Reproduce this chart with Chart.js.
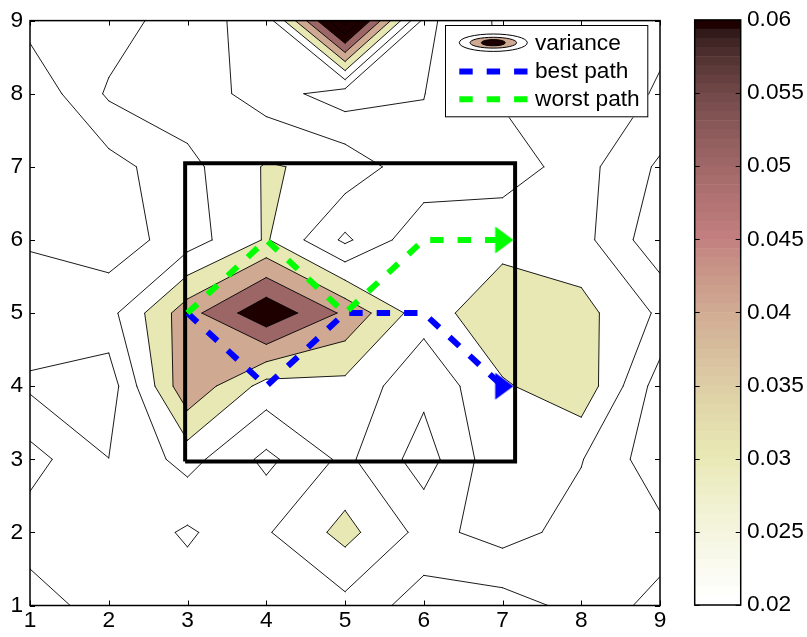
<!DOCTYPE html>
<html><head><meta charset="utf-8">
<script src="https://cdn.jsdelivr.net/npm/chart.js@4.4.1/dist/chart.umd.min.js"></script>
<style>
html,body{margin:0;padding:0;background:#fff;}
#wrap{position:relative;width:807px;height:637px;overflow:hidden;}
#main{position:absolute;left:0;top:0;}
#cbar{position:absolute;left:680px;top:0;}
</style></head><body>
<div id="wrap"><canvas id="main" width="680" height="637"></canvas><canvas id="cbar" width="127" height="637"></canvas></div>
<script>
// ---- data ----
const gridX = [1,2,3,4,5,6,7,8,9];
const gridY = [1,2,3,4,5,6,7,8,9];
// variance values, one row per y (x = 1..9)
const varianceY1 = [0.0050,0.0148,0.0160,0.0150,0.0169,0.0053,0.0055,0.0133,0.0083];
const varianceY2 = [0.0150,0.0180,0.0085,0.0190,0.0333,0.0167,0.0240,0.0160,0.0126];
const varianceY3 = [0.0239,0.0101,0.0237,0.0075,0.0224,0.0053,0.0280,0.0205,0.0036];
const varianceY4 = [0.0083,0.0045,0.0480,0.0260,0.0270,0.0126,0.0287,0.0370,0.0050];
const varianceY5 = [0.0164,0.0166,0.0460,0.0680,0.0480,0.0240,0.0390,0.0335,0.0183];
const varianceY6 = [0.0088,0.0046,0.0150,0.0310,0.0080,0.0280,0.0256,0.0235,0.0030];
const varianceY7 = [0.0040,0.0062,0.0170,0.0310,0.0270,0.0123,0.0159,0.0237,0.0083];
const varianceY8 = [0.0022,0.0215,0.0264,0.0150,0.0045,0.0098,0.0210,0.0260,0.0190];
const varianceY9 = [0.0135,0.0147,0.0262,0.0138,0.0850,0.0074,0.0220,0.0220,0.0222];
const contourLevels = [0.01,0.02,0.03,0.04,0.05,0.06,0.07,0.08];
const colorLimits = [0.02,0.06];
const colorbarTicks = [0.02,0.025,0.03,0.035,0.04,0.045,0.05,0.055,0.06];
const axisTicks = [1,2,3,4,5,6,7,8,9];
const bestPathX = [3,4,5,6,7];
const bestPathY = [5,4,5,5,4];
const worstPathX = [3,4,5,6,7];
const worstPathY = [5,6,5,6,6];
const boxX = [2.97,7.16,7.16,2.97,2.97];
const boxY = [2.97,2.97,7.05,7.05,2.97];
const legendLabels = ['variance','best path','worst path'];

const FONT = "'Liberation Sans', Arial, Helvetica, sans-serif";
const FSIZE = 22.7;
const Z = [varianceY1,varianceY2,varianceY3,varianceY4,varianceY5,varianceY6,varianceY7,varianceY8,varianceY9];

// ---- colormap: flipud(pink(64)) ----
function pinkMap(m){
  const n = Math.floor(3/8*m), out=[];
  for(let i=0;i<m;i++){
    const k=i+1;
    const r = Math.min(1,k/n);
    const g = k<=n?0:Math.min(1,(k-n)/n);
    const b = k<=2*n?0:(k-2*n)/(m-2*n);
    const gr = i/(m-1);
    out.push([Math.sqrt((2*gr+r)/3),Math.sqrt((2*gr+g)/3),Math.sqrt((2*gr+b)/3)]);
  }
  return out;
}
const CMAP = pinkMap(64).reverse();
const rgb = c => 'rgb('+c.map(v=>Math.round(v*255)).join(',')+')';
function colorFor(v){
  const t=(v-colorLimits[0])/(colorLimits[1]-colorLimits[0]);
  const idx=Math.max(0,Math.min(CMAP.length-1,Math.floor(t*CMAP.length+1e-9)));
  return rgb(CMAP[idx]);
}

// ---- marching squares ----
function interp(p,q,L){const t=(L-p.v)/(q.v-p.v);return {x:p.x+t*(q.x-p.x),y:p.y+t*(q.y-p.y)};}
function cellPieces(i,j,L){
  const c=[{x:gridX[i],y:gridY[j],v:Z[j][i]},{x:gridX[i+1],y:gridY[j],v:Z[j][i+1]},
           {x:gridX[i+1],y:gridY[j+1],v:Z[j+1][i+1]},{x:gridX[i],y:gridY[j+1],v:Z[j+1][i]}];
  const ins=c.map(p=>p.v>=L);
  const n=ins.filter(Boolean).length;
  if(n===0) return {polys:[],segs:[]};
  if(n===4) return {polys:[c.map(p=>({x:p.x,y:p.y}))],segs:[]};
  const center=(c[0].v+c[1].v+c[2].v+c[3].v)/4;
  const saddle = n===2 && ins[0]===ins[2];
  const cross=[];
  for(let k=0;k<4;k++){const k2=(k+1)%4; if(ins[k]!==ins[k2]) cross.push({p:interp(c[k],c[k2],L),exit:ins[k],edge:k});}
  if(saddle && center<L){
    const polys=[],segs=[];
    for(let k=0;k<4;k++){ if(!ins[k]) continue;
      const a=interp(c[(k+3)%4],c[k],L), b=interp(c[k],c[(k+1)%4],L);
      polys.push([a,{x:c[k].x,y:c[k].y},b]); segs.push([a,b]);
    }
    return {polys,segs};
  }
  const poly=[];
  for(let k=0;k<4;k++){const k2=(k+1)%4; if(ins[k]) poly.push({x:c[k].x,y:c[k].y}); if(ins[k]!==ins[k2]) poly.push(interp(c[k],c[k2],L));}
  const segs=[];
  for(let m=0;m<cross.length;m++){ if(cross[m].exit){ const nx=cross[(m+1)%cross.length]; segs.push([cross[m].p,nx.p]); } }
  return {polys:[poly],segs};
}
const fillLayers=[]; const contourPoints=[];
contourLevels.forEach(L=>{
  const polys=[];
  for(let j=0;j<gridY.length-1;j++) for(let i=0;i<gridX.length-1;i++){
    const r=cellPieces(i,j,L); polys.push(...r.polys);
    r.segs.forEach(s=>{contourPoints.push({x:s[0].x,y:s[0].y},{x:s[1].x,y:s[1].y},{x:s[1].x,y:null});});
  }
  fillLayers.push({level:L,polys});
});

// ---- arrow marker ('>') ----
function makeArrow(color){
  const cv=document.createElement('canvas'); cv.width=30; cv.height=30;
  const c=cv.getContext('2d'); c.fillStyle=color; c.beginPath();
  c.moveTo(26,15); c.lineTo(7.7,1.6); c.lineTo(7.7,28.4); c.closePath(); c.fill();
  return cv;
}
const arrowBlue=makeArrow('rgb(0,0,255)'), arrowGreen=makeArrow('rgb(0,255,0)');
const lastOnly=(arr,v)=>arr.map((_,k)=>k===arr.length-1?v:0);

const fillPlugin={id:'fills',beforeDatasetsDraw(chart){
  const {ctx,chartArea:a,scales:{x,y}}=chart;
  ctx.save(); ctx.beginPath(); ctx.rect(a.left,a.top,a.right-a.left,a.bottom-a.top); ctx.clip();
  fillLayers.forEach(layer=>{
    ctx.beginPath();
    layer.polys.forEach(p=>{p.forEach((q,k)=>{const px=x.getPixelForValue(q.x),py=y.getPixelForValue(q.y); if(k===0)ctx.moveTo(px,py); else ctx.lineTo(px,py);}); ctx.closePath();});
    ctx.fillStyle=colorFor(layer.level); ctx.fill('nonzero');
  });
  ctx.restore();
}};
const framePlugin={id:'frame',afterDatasetsDraw(chart){
  const {ctx,chartArea:a,scales:{x,y}}=chart;
  ctx.save(); ctx.strokeStyle='#000'; ctx.lineWidth=1; ctx.beginPath();
  x.ticks.forEach(t=>{const px=Math.round(x.getPixelForValue(t.value))+0.5; ctx.moveTo(px,a.bottom); ctx.lineTo(px,a.bottom-5); ctx.moveTo(px,a.top); ctx.lineTo(px,a.top+5);});
  y.ticks.forEach(t=>{const py=Math.round(y.getPixelForValue(t.value))+0.5; ctx.moveTo(a.left,py); ctx.lineTo(a.left+5,py); ctx.moveTo(a.right,py); ctx.lineTo(a.right-5,py);});
  ctx.stroke();
  ctx.lineWidth=1.5; ctx.strokeRect(a.left,a.top,a.right-a.left,a.bottom-a.top);
  ctx.restore();
}};
const legendPlugin={id:'legendBox',afterDraw(chart){
  const ctx=chart.ctx; ctx.save();
  const L=445,T=25,R=648.3,B=117.3;
  ctx.fillStyle='#fff'; ctx.fillRect(L,T,R-L,B-T);
  ctx.strokeStyle='#000'; ctx.lineWidth=1; ctx.strokeRect(L+0.5,T+0.5,R-L-1,B-T-1);
  // variance icon
  const cx=493.3, cy=42.7;
  ctx.lineWidth=1;
  ctx.beginPath(); ctx.ellipse(cx,cy,34,8.7,0,0,Math.PI*2); ctx.fillStyle='#fff'; ctx.fill(); ctx.stroke();
  ctx.beginPath(); ctx.ellipse(cx,cy,23.3,5.4,0,0,Math.PI*2); ctx.fillStyle=colorFor(0.04); ctx.fill(); ctx.stroke();
  ctx.beginPath(); ctx.ellipse(cx,cy,12,3.1,0,0,Math.PI*2); ctx.fillStyle=colorFor(0.06); ctx.fill(); ctx.stroke();
  // dashed samples
  [[71.5,'rgb(0,0,255)'],[99.3,'rgb(0,255,0)']].forEach(([yy,col])=>{
    ctx.beginPath(); ctx.setLineDash([13.4,14]); ctx.lineCap='butt'; ctx.strokeStyle=col; ctx.lineWidth=6;
    ctx.moveTo(459.3,yy); ctx.lineTo(527.8,yy); ctx.stroke();
  });
  ctx.setLineDash([]);
  ctx.fillStyle='#000'; ctx.font=FSIZE+'px '+FONT; ctx.textBaseline='middle'; ctx.textAlign='left';
  ctx.fillText(legendLabels[0],535,43.5); ctx.fillText(legendLabels[1],535,72); ctx.fillText(legendLabels[2],535,99.5);
  ctx.restore();
}};

const toPts=(xs,ys)=>xs.map((v,k)=>({x:v,y:ys[k]}));
new Chart(document.getElementById('main'),{
  type:'scatter',
  data:{datasets:[
    {label:'contours',data:contourPoints,showLine:true,borderColor:'#000',borderWidth:0.9,pointRadius:0,spanGaps:false,order:5,borderCapStyle:'round'},
    {label:'box',data:toPts(boxX,boxY),showLine:true,borderColor:'#000',borderWidth:4,pointRadius:0,order:4,borderJoinStyle:'miter'},
    {label:'best path',data:toPts(bestPathX,bestPathY),showLine:true,borderColor:'rgb(0,0,255)',borderWidth:6,borderDash:[13.4,14],
      pointRadius:lastOnly(bestPathX,14),pointStyle:arrowBlue,order:3},
    {label:'worst path',data:toPts(worstPathX,worstPathY),showLine:true,borderColor:'rgb(0,255,0)',borderWidth:6,borderDash:[13.4,14],
      pointRadius:lastOnly(worstPathX,14),pointStyle:arrowGreen,order:2}
  ]},
  options:{
    responsive:false,animation:false,devicePixelRatio:1,
    layout:{padding:{top:14,right:20,left:0,bottom:0}},
    plugins:{legend:{display:false},tooltip:{enabled:false}},
    scales:{
      x:{type:'linear',min:1,max:9,afterBuildTicks:s=>{s.ticks=axisTicks.map(v=>({value:v}));},afterFit:s=>{s.height=31.5;},
         grid:{display:false,drawTicks:false},border:{display:false},
         ticks:{padding:2,color:'#000',font:{family:FONT,size:FSIZE},maxRotation:0,autoSkip:false,callback:v=>String(v)}},
      y:{type:'linear',min:1,max:9,afterBuildTicks:s=>{s.ticks=axisTicks.map(v=>({value:v}));},afterFit:s=>{s.width=30;},
         grid:{display:false,drawTicks:false},border:{display:false},
         ticks:{padding:7,color:'#000',font:{family:FONT,size:FSIZE},autoSkip:false,callback:v=>String(v)}}
    }
  },
  plugins:[fillPlugin,framePlugin,legendPlugin]
});

// ---- colorbar ----
const step=(colorLimits[1]-colorLimits[0])/CMAP.length;
const cbDatasets=CMAP.map((c,i)=>({data:[[colorLimits[0]+i*step,colorLimits[0]+(i+1)*step]],backgroundColor:rgb(c),borderWidth:0,barPercentage:1,categoryPercentage:1,grouped:false}));
const cbFrame={id:'cbFrame',afterDatasetsDraw(chart){
  const {ctx,chartArea:a,scales:{y}}=chart;
  ctx.save(); ctx.strokeStyle='#000'; ctx.lineWidth=1; ctx.beginPath();
  y.ticks.forEach(t=>{const py=Math.round(y.getPixelForValue(t.value))+0.5; ctx.moveTo(a.left,py); ctx.lineTo(a.left+5,py); ctx.moveTo(a.right,py); ctx.lineTo(a.right-5,py);});
  ctx.stroke(); ctx.lineWidth=1.5; ctx.strokeRect(a.left,a.top,a.right-a.left,a.bottom-a.top); ctx.restore();
}};
new Chart(document.getElementById('cbar'),{
  type:'bar',
  data:{labels:['c'],datasets:cbDatasets},
  options:{
    responsive:false,animation:false,devicePixelRatio:1,
    layout:{padding:{left:14.7,top:14,bottom:32,right:0}},
    plugins:{legend:{display:false},tooltip:{enabled:false}},
    scales:{
      x:{display:false},
      y:{position:'right',min:colorLimits[0],max:colorLimits[1],
         afterBuildTicks:s=>{s.ticks=colorbarTicks.map(v=>({value:v}));},afterFit:s=>{s.width=66.3;},
         grid:{display:false,drawTicks:false},border:{display:false},
         ticks:{padding:6.3,color:'#000',font:{family:FONT,size:FSIZE},callback:v=>String(Math.round(v*1000)/1000)}}
    }
  },
  plugins:[cbFrame]
});
</script>
</body></html>
